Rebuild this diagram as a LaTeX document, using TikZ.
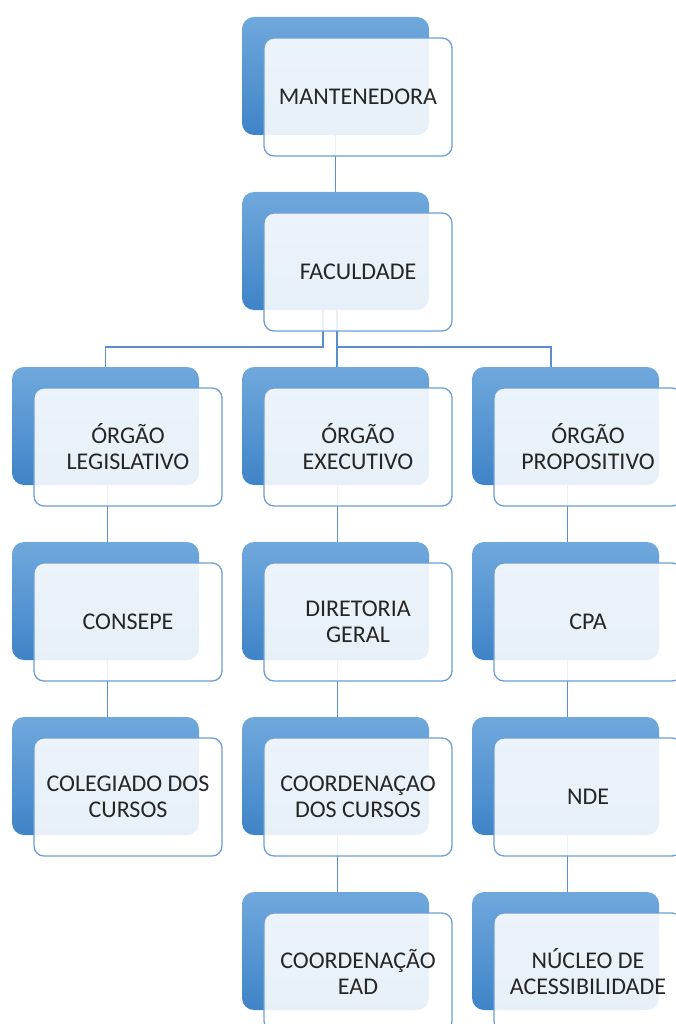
\documentclass[tikz,border=0pt]{standalone}
\usepackage{fontspec}
\setmainfont{Carlito}
\definecolor{boxtop}{HTML}{6FA8DC}
\definecolor{boxbot}{HTML}{3F84C8}
\definecolor{boxline}{HTML}{6C9FD6}
\definecolor{linkcol}{HTML}{5B8FCB}
\pgfdeclarelayer{back}
\pgfsetlayers{back,main}
\tikzset{
    backbox/.style={rectangle, rounded corners=12pt, minimum width=187pt, minimum height=118pt, top color=boxtop, bottom color=boxbot, draw=none, inner sep=0pt}, % bloco azul de tras
    frontbox/.style={rectangle, rounded corners=10pt, minimum width=188pt, minimum height=118pt, draw=boxline, line width=1.3pt, fill=white, fill opacity=0.88, text opacity=1, text=black!85, align=center, inner sep=0pt, font=\fontsize{24}{26}\selectfont}, % caixa do texto
    link/.style={draw=linkcol, line width=1.6pt} % ligacoes
}
\begin{document}
\begin{tikzpicture}[x=1pt, y=-1pt]
            \useasboundingbox (0,0) rectangle (675,1024);

            \foreach \c/\r/\n/\t in {1/0/mant/MANTENEDORA, 1/1/fac/FACULDADE,
                0/2/leg/{ÓRGÃO\\LEGISLATIVO}, 1/2/exe/{ÓRGÃO\\EXECUTIVO}, 2/2/prop/{ÓRGÃO\\PROPOSITIVO},
                0/3/cons/CONSEPE, 1/3/dir/{DIRETORIA\\GERAL}, 2/3/cpa/CPA,
                0/4/col/{COLEGIADO DOS\\CURSOS}, 1/4/coord/{COORDENAÇAO\\DOS CURSOS}, 2/4/nde/NDE,
                1/5/ead/{COORDENAÇÃO\\EAD}, 2/5/nuc/{NÚCLEO DE\\ACESSIBILIDADE}} {
                \begin{pgfonlayer}{back}
                    \node[backbox] (\n B) at (105.5+230*\c, 76+175*\r) {};
                \end{pgfonlayer}
                \node[frontbox] (\n) at (128+230*\c, 97+175*\r) {\t};
            }

            \begin{pgfonlayer}{back}
                \draw[link] (mantB.south) -- (facB.north);
                \draw[link] ([xshift=-12.5pt]facB.south) -- ++(0,37) -| (legB.north);
                \draw[link] ([xshift=1.5pt]facB.south) -- ([xshift=1.5pt]exeB.north);
                \draw[link] ([xshift=1.5pt]facB.south) ++(0,37) -| ([xshift=-14.5pt]propB.north);
                \foreach \a/\b in {leg/cons, cons/col, exe/dir, dir/coord, coord/ead, prop/cpa, cpa/nde, nde/nuc} {
                    \draw[link] ([xshift=2pt]\a B.south) -- ([xshift=2pt]\b B.north);
                }
            \end{pgfonlayer}
        \end{tikzpicture}
\end{document}
